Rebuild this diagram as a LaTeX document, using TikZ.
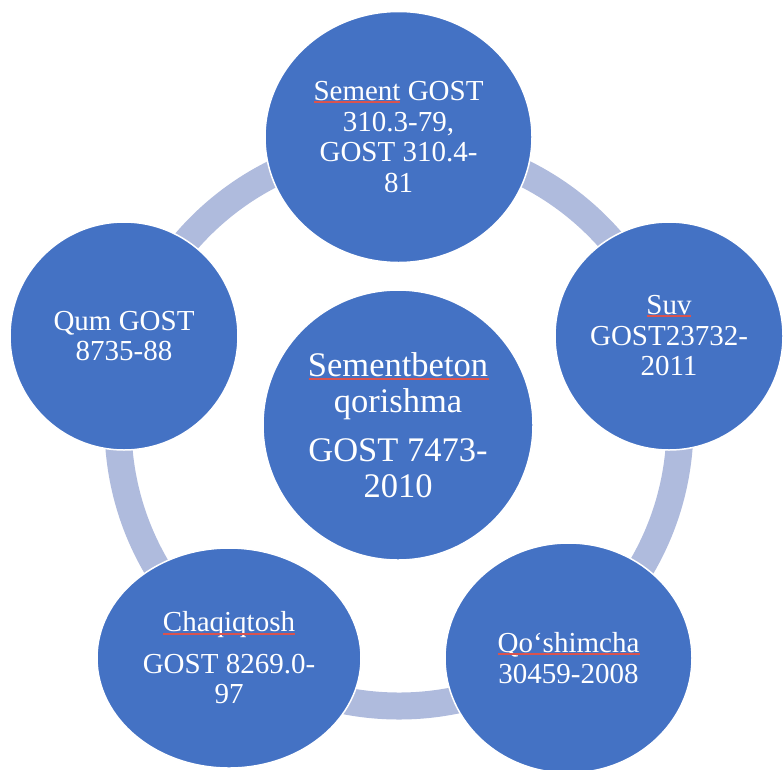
\documentclass[tikz,border=0pt]{standalone}
\usepackage{xcolor}
\usepackage{fontspec}
\setmainfont{Liberation Serif}
\usepackage{tikz}
\usetikzlibrary{shapes.geometric}

\definecolor{diskblue}{HTML}{4472C4}
\definecolor{ringgray}{HTML}{AFBBDD}
\definecolor{spellred}{HTML}{D9534F}

\begin{document}
\begin{tikzpicture}[x=1pt,y=-1pt]

			\tikzstyle{disk} = [ellipse,fill=diskblue,draw=white,line width=1.5pt,inner sep=0pt,text=white,align=center,font=\fontsize{29}{30.5}\selectfont]
			\tikzstyle{hubdisk} = [disk,font=\fontsize{34.5}{36.5}\selectfont]
			\tikzstyle{ringband} = [draw=ringgray,line width=27pt]
			\tikzstyle{spellline} = [draw=spellred,line width=1.1pt]

			\useasboundingbox (0,0) rectangle (783,769);

			% ring behind the disks
			\coordinate (hub) at (399,425);
			\draw[ringband] (hub) circle[radius=281];

			\node[hubdisk,minimum width=270,minimum height=270] (core) at (398,425) {Sementbeton\\qorishma\\[12pt]GOST 7473-\\2010};

			\node[disk,minimum width=267,minimum height=251] (cement) at (398.5,137) {Sement GOST\\310.3-79,\\GOST 310.4-\\81};
			\node[disk,minimum width=228,minimum height=228] (water) at (669,336) {Suv\\GOST23732-\\2011};
			\node[disk,minimum width=247,minimum height=230] (additive) at (568.5,658) {Qo‘shimcha\\30459-2008};
			\node[disk,minimum width=264,minimum height=220] (gravel) at (229,658) {Chaqiqtosh\\[11pt]GOST 8269.0-\\97};
			\node[disk,minimum width=228,minimum height=228] (sand) at (124,336) {Qum GOST\\8735-88};

			% spell-check marks under words
			\draw[spellline] ([shift={(-89,-46)}]core.center) -- ([shift={(91,-46)}]core.center);
			\draw[spellline] ([shift={(-85,-35)}]cement.center) -- ([shift={(1,-35)}]cement.center);
			\draw[spellline] ([shift={(-22,-20)}]water.center) -- ([shift={(22,-20)}]water.center);
			\draw[spellline] ([shift={(-71,-4)}]additive.center) -- ([shift={(71,-4)}]additive.center);
			\draw[spellline] ([shift={(-66,-24)}]gravel.center) -- ([shift={(66,-24)}]gravel.center);
		\end{tikzpicture}
\end{document}
